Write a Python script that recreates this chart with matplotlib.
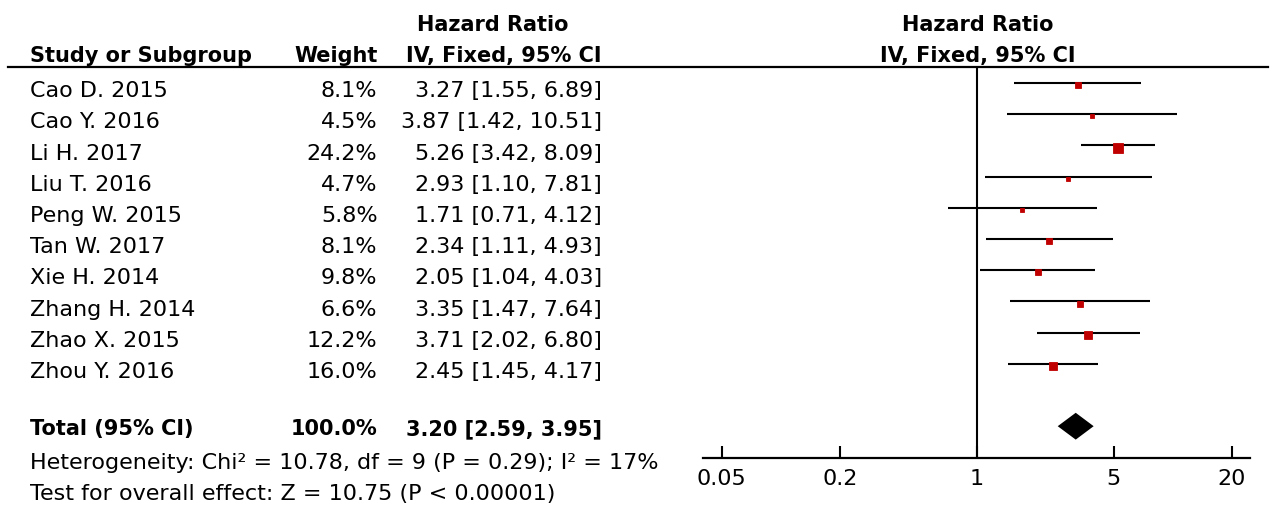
import numpy as np
import matplotlib.pyplot as plt
import matplotlib.transforms as mtransforms
from matplotlib.lines import Line2D

# study data
studies = ["Cao D. 2015", "Cao Y. 2016", "Li H. 2017", "Liu T. 2016", "Peng W. 2015",
           "Tan W. 2017", "Xie H. 2014", "Zhang H. 2014", "Zhao X. 2015", "Zhou Y. 2016"]
weights = [8.1, 4.5, 24.2, 4.7, 5.8, 8.1, 9.8, 6.6, 12.2, 16.0]
hr = [3.27, 3.87, 5.26, 2.93, 1.71, 2.34, 2.05, 3.35, 3.71, 2.45]
lower = [1.55, 1.42, 3.42, 1.10, 0.71, 1.11, 1.04, 1.47, 2.02, 1.45]
upper = [6.89, 10.51, 8.09, 7.81, 4.12, 4.93, 4.03, 7.64, 6.80, 4.17]

total_hr = 3.20
total_ci = [2.59, 3.95]
total_weight = 100.0

tick_vals = [0.05, 0.2, 1, 5, 20]
tick_labels = ["0.05", "0.2", "1", "5", "20"]

het_text = "Heterogeneity: Chi\u00b2 = 10.78, df = 9 (P = 0.29); I\u00b2 = 17%"
effect_text = "Test for overall effect: Z = 10.75 (P < 0.00001)"

W, H = 1276, 506
plt.rcParams['font.family'] = 'DejaVu Sans'
FS = 16      # regular text
FSB = 15     # bold text

fig = plt.figure(figsize=(W / 100, H / 100), dpi=100)

# forest panel, pixel box 703..1250 x 68..459
px0, px1, py0, py1 = 703, 1250, 68, 459
ax = fig.add_axes([px0 / W, 1 - py1 / H, (px1 - px0) / W, (py1 - py0) / H])
ax.set_xscale('log')
ax.set_xlim(0.0401, 24.8)
row0, step = 84, 31.2
ax.set_ylim((py1 - row0) / step, (py0 - row0) / step)

for s in ['top', 'left', 'right']:
    ax.spines[s].set_visible(False)
ax.spines['bottom'].set_linewidth(1.6)
ax.set_yticks([])
ax.set_xticks(tick_vals)
ax.set_xticklabels(tick_labels, fontsize=FS)
ax.minorticks_off()
ax.tick_params(axis='x', direction='in', length=8.5, width=1.5, pad=7)

ax.axvline(1, color='black', lw=1.5)

for i in range(len(studies)):
    ax.plot([lower[i], upper[i]], [i, i], color='black', lw=1.5, solid_capstyle='butt')
    side = 2.3 * np.sqrt(weights[i]) * 0.72 - 0.5  # points, edge adds the rest
    ax.plot(hr[i], i + 0.07, marker='s', ms=side, color='#c00000', mec='#c00000', mew=0.6)

# overall diamond
ty = 11
dh = 0.43
ax.fill([total_ci[0], total_hr, total_ci[1], total_hr],
        [ty, ty - dh, ty, ty + dh], color='black', lw=0)

# text table
tr = mtransforms.blended_transform_factory(fig.transFigure, ax.transData)
xs_name, xs_w, xs_ci = 30.5 / W, 377.5 / W, 602 / W
off = 13.3 / step
for i in range(len(studies)):
    fig.text(xs_name, i + off, studies[i], transform=tr, fontsize=FS, va='baseline', ha='left')
    fig.text(xs_w, i + off, "%.1f%%" % weights[i], transform=tr, fontsize=FS,
             va='baseline', ha='right')
    fig.text(xs_ci, i + off, "%.2f [%.2f, %.2f]" % (hr[i], lower[i], upper[i]), transform=tr,
             fontsize=FS, va='baseline', ha='right')

toff = ty + 8.3 / step
fig.text(xs_name, toff, "Total (95% CI)", transform=tr, fontsize=FSB, va='baseline', weight='bold')
fig.text(xs_w, toff, "%.1f%%" % total_weight, transform=tr, fontsize=FSB, va='baseline',
         ha='right', weight='bold')
fig.text(xs_ci, toff, "%.2f [%.2f, %.2f]" % (total_hr, total_ci[0], total_ci[1]), transform=tr,
         fontsize=FSB, va='baseline', ha='right', weight='bold')

fig.text(xs_name, 1 - 469.5 / H, het_text, fontsize=FS, va='baseline')
fig.text(xs_name, 1 - 500 / H, effect_text, fontsize=FS, va='baseline')

# headers
fig.text(xs_name, 1 - 62 / H, "Study or Subgroup", fontsize=FSB, va='baseline', weight='bold')
fig.text(xs_w, 1 - 62 / H, "Weight", fontsize=FSB, va='baseline', ha='right', weight='bold')
fig.text(493 / W, 1 - 31 / H, "Hazard Ratio", fontsize=FSB, va='baseline', ha='center', weight='bold')
fig.text(xs_ci, 1 - 62 / H, "IV, Fixed, 95% CI", fontsize=FSB, va='baseline', ha='right', weight='bold')
fig.text(978 / W, 1 - 31 / H, "Hazard Ratio", fontsize=FSB, va='baseline', ha='center', weight='bold')
fig.text(978 / W, 1 - 62 / H, "IV, Fixed, 95% CI", fontsize=FSB, va='baseline', ha='center', weight='bold')

fig.add_artist(Line2D([8 / W, 1268 / W], [1 - 68 / H, 1 - 68 / H], color='black', lw=1.6,
                      transform=fig.transFigure))

fig.savefig("out.png", dpi=100)
